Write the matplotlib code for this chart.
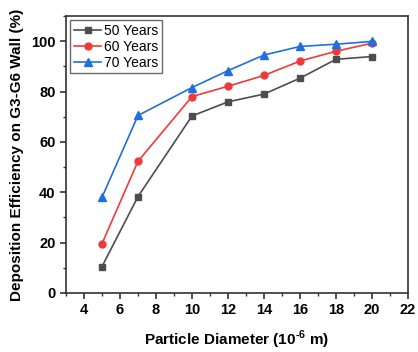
import matplotlib
matplotlib.use("Agg")
import matplotlib.pyplot as plt
from matplotlib.ticker import MultipleLocator

plt.rcParams['font.family'] = ['Liberation Sans', 'DejaVu Sans']
plt.rcParams['mathtext.fontset'] = 'custom'
plt.rcParams['mathtext.rm'] = 'Liberation Sans:bold'
plt.rcParams['mathtext.bf'] = 'Liberation Sans:bold'

# particle diameters (10^-6 m)
diameter = [5, 7, 10, 12, 14, 16, 18, 20]

# deposition efficiency (%)
years50 = [10.5, 38.3, 70.3, 75.9, 79.0, 85.3, 92.8, 93.9]
years60 = [19.6, 52.3, 78.0, 82.1, 86.4, 92.1, 96.0, 99.2]
years70 = [38.0, 70.5, 81.6, 88.3, 94.5, 97.9, 98.8, 99.9]

labels = ["50 Years", "60 Years", "70 Years"]


def main():
    fig = plt.figure(figsize=(4.18, 3.52), dpi=100)
    ax = fig.add_axes([66 / 418, 1 - 293 / 352, 342 / 418, 277 / 352])

    # draw lines
    ax.plot(diameter, years50, color="#4d4d4d", marker="s", markersize=5,
            linewidth=1.2, label=labels[0])
    ax.plot(diameter, years60, color="#f03a3a", marker="o", markersize=5,
            linewidth=1.2, label=labels[1])
    ax.plot(diameter, years70, color="#1f6fe0", marker="^", markersize=5.5,
            linewidth=1.2, label=labels[2])

    ax.set_xlim(3, 22)
    ax.set_ylim(0, 110)
    ax.xaxis.set_major_locator(MultipleLocator(2))
    ax.xaxis.set_minor_locator(MultipleLocator(1))
    ax.yaxis.set_major_locator(MultipleLocator(20))
    ax.yaxis.set_minor_locator(MultipleLocator(10))

    for s in ax.spines.values():
        s.set_linewidth(1.2)
        s.set_color("#333333")
    ax.tick_params(which="major", direction="out", length=4, width=1.2,
                   labelsize=10.5, colors="#333333", labelcolor="black")
    ax.tick_params(which="minor", direction="out", length=2.5, width=1.0,
                   colors="#333333")
    for lab in ax.get_xticklabels() + ax.get_yticklabels():
        lab.set_fontweight("bold")

    ax.set_xlabel("Particle Diameter (10$^{\\text{-6}}$ m)", fontsize=11,
                  fontweight="bold", labelpad=8)
    ax.set_ylabel("Deposition Efficiency on G3-G6 Wall (%)", fontsize=11,
                  fontweight="bold", labelpad=5)

    ax.legend(loc="upper left", fontsize=10, frameon=True, fancybox=False,
              edgecolor="#444444", borderpad=0.25, labelspacing=0.15,
              handlelength=2.0, handletextpad=0.2, borderaxespad=0.3)

    fig.savefig("out.png", dpi=100)


if __name__ == "__main__":
    main()
